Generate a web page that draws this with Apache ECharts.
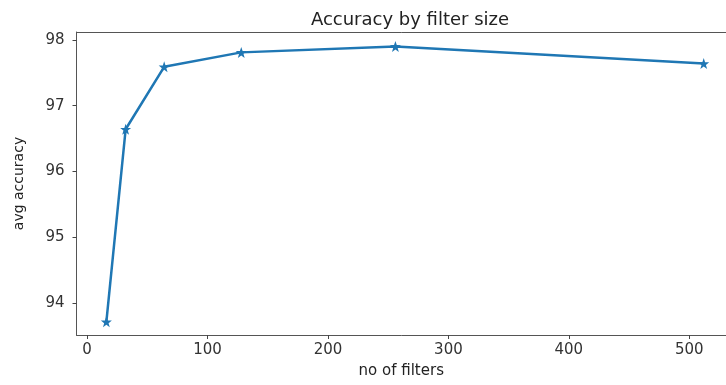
<!DOCTYPE html>
<html>
<head>
<meta charset="utf-8">
<script src="https://cdn.jsdelivr.net/npm/echarts@6/dist/echarts.min.js"></script>
<style>
  html, body { margin: 0; padding: 0; background: #fff; }
  #chart { width: 726px; height: 385px; }
</style>
</head>
<body>
<div id="chart"></div>
<script>
// number of filters vs average accuracy
const filterSizes = [16, 32, 64, 128, 256, 512];
const avgAccuracy = [93.71, 96.64, 97.59, 97.81, 97.9, 97.64];
const xTicks = [0, 100, 200, 300, 400, 500];
const yTicks = [94, 95, 96, 97, 98];

const star = "path://M0,-10 L2.35,-3.24 L9.51,-3.09 L3.8,1.24 L5.88,8.09 L0,4 L-5.88,8.09 L-3.8,1.24 L-9.51,-3.09 L-2.35,-3.24 Z";
const font = "DejaVu Sans";
const spine = { show: true, onZero: false, lineStyle: { color: "#555", width: 1 } };

const chart = echarts.init(document.getElementById("chart"));
chart.setOption({
  animation: false,
  title: {
    text: "Accuracy by filter size",
    left: 405,
    textAlign: "center",
    top: 6,
    textStyle: { fontFamily: font, fontSize: 18, fontWeight: "normal", color: "#222" },
  },
  grid: {
    left: 76.5,
    top: 32,
    bottom: 50,
    right: 0,
    show: false,
    containLabel: false,
  },
  xAxis: [
    {
      type: "value",
      min: -8.8,
      max: 530.5,
      name: "no of filters",
      nameLocation: "middle",
      nameGap: 29,
      nameTextStyle: { fontFamily: font, fontSize: 15, color: "#222" },
      splitLine: { show: false },
      axisLine: spine,
      axisTick: { show: true, inside: false, length: 4, customValues: xTicks, lineStyle: { color: "#444" } },
      axisLabel: { customValues: xTicks, margin: 8, fontFamily: font, fontSize: 15, color: "#333" },
    },
    {
      // top spine only
      type: "value",
      position: "top",
      min: -8.8,
      max: 530.5,
      splitLine: { show: false },
      axisLine: spine,
      axisTick: { show: false },
      axisLabel: { show: false },
    },
  ],
  yAxis: {
    type: "value",
    min: 93.51,
    max: 98.12,
    name: "avg accuracy",
    nameLocation: "middle",
    nameRotate: 90,
    nameGap: 50,
    nameTextStyle: { fontFamily: font, fontSize: 14, color: "#222" },
    splitLine: { show: false },
    axisLine: spine,
    axisTick: { show: true, inside: false, length: 4, customValues: yTicks, lineStyle: { color: "#444" } },
    axisLabel: { customValues: yTicks, margin: 12, fontFamily: font, fontSize: 15, color: "#333" },
  },
  series: [
    {
      type: "line",
      xAxisIndex: 0,
      data: filterSizes.map((x, i) => [x, avgAccuracy[i]]),
      symbol: star,
      symbolSize: 11,
      showAllSymbol: true,
      lineStyle: { color: "#1f77b4", width: 2.5 },
      itemStyle: { color: "#1f77b4", borderWidth: 0 },
    },
  ],
});
</script>
</body>
</html>
